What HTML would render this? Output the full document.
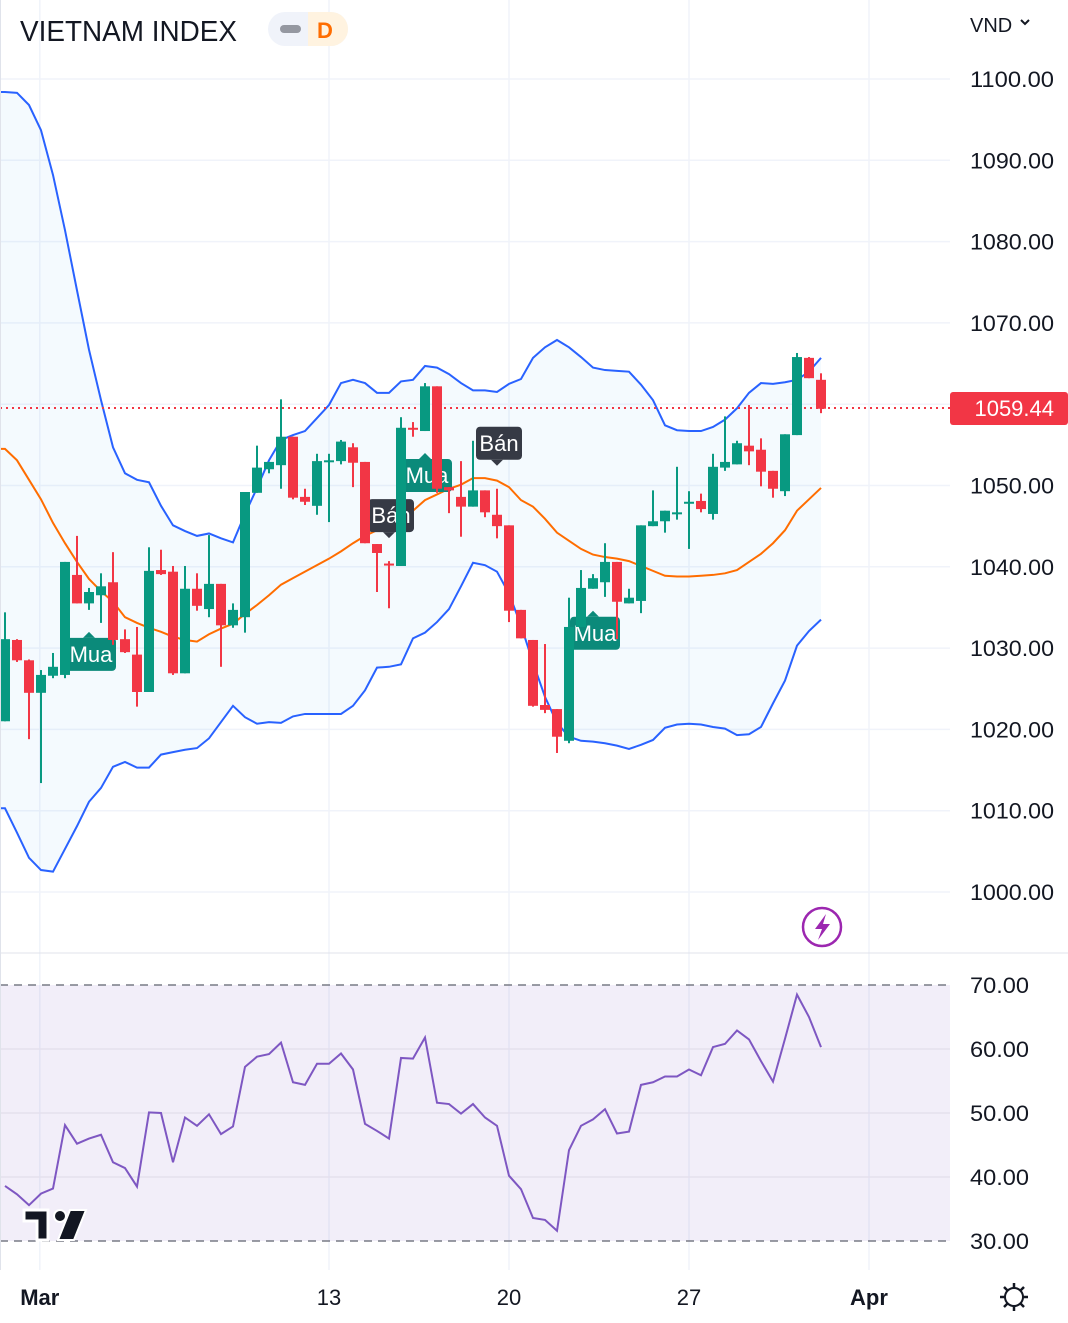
<!DOCTYPE html>
<html><head><meta charset="utf-8">
<style>
html,body{margin:0;padding:0;background:#fff;}
body{width:1068px;height:1318px;overflow:hidden;font-family:"Liberation Sans",sans-serif;}
svg text{font-family:"Liberation Sans",sans-serif;}
</style></head>
<body>
<svg id="chart" width="1068" height="1318" viewBox="0 0 1068 1318" xmlns="http://www.w3.org/2000/svg">
  <rect x="0" y="0" width="1068" height="1318" fill="#ffffff"/>
  <g id="grid"></g>
  <rect x="0" y="985" width="950" height="256" fill="#7e57c2" fill-opacity="0.1"/>
  <g id="rsigrid"></g>
  <g id="bb"></g>
  <line x1="0" y1="408" x2="950" y2="408" stroke="#f23645" stroke-width="2" stroke-dasharray="2,4"/>
  <g id="signals"></g>
  <g id="candles"></g>
  <g id="rsi"></g>
  <line x1="0" y1="953" x2="1068" y2="953" stroke="#e0e3eb" stroke-width="1"/>
  <line x1="0.5" y1="0" x2="0.5" y2="1270" stroke="#e0e3eb" stroke-width="1"/>
  <g id="paxis"></g>
  <g id="raxis"></g>
  <g id="taxis"></g>
  <text x="20" y="41" font-size="29" fill="#131722" textLength="217" lengthAdjust="spacingAndGlyphs">VIETNAM INDEX</text>
  <g>
    <rect x="268" y="12" width="80" height="34" rx="17" fill="#f0f3fa"/>
    <path d="M308 12 H331 A17 17 0 0 1 331 46 H308 Z" fill="#fff3e0"/>
    <rect x="280" y="25" width="21" height="8" rx="4" fill="#9598a1"/>
    <text x="317" y="38" font-size="22" font-weight="bold" fill="#ff6d00">D</text>
  </g>
  <text x="970" y="32" font-size="20" fill="#131722">VND</text>
  <path d="M1021 20 L1025 24 L1029 20" fill="none" stroke="#131722" stroke-width="2"/>
  <g>
    <rect x="950" y="392" width="118" height="33" rx="3" fill="#f23645"/>
    <text x="1054" y="416" font-size="22" fill="#fff" text-anchor="end">1059.44</text>
  </g>
  <g>
    <circle cx="822" cy="927" r="19" fill="#fff" stroke="#9c27b0" stroke-width="2.5"/>
    <path d="M826 914 L815 929 L822 929 L818 940 L830 924 L823 924 Z" fill="#9c27b0"/>
  </g>
  <g>
    <path d="M24 1210 H48 V1240 H37 V1221 H24 Z" fill="#131722" stroke="#fff" stroke-width="3"/>
    <circle cx="60" cy="1216" r="6" fill="#131722" stroke="#fff" stroke-width="2"/>
    <path d="M70 1210 H86 L74 1240 H58 Z" fill="#131722" stroke="#fff" stroke-width="2"/>
  </g>
  <g transform="translate(1014,1297)">
    <circle cx="0" cy="0" r="9" fill="none" stroke="#131722" stroke-width="2"/>
    <g stroke="#131722" stroke-width="2.5">
      <line x1="0" y1="-14" x2="0" y2="-9"/><line x1="0" y1="9" x2="0" y2="14"/>
      <line x1="-14" y1="0" x2="-9" y2="0"/><line x1="9" y1="0" x2="14" y2="0"/>
      <line x1="-10" y1="-10" x2="-6.5" y2="-6.5"/><line x1="6.5" y1="6.5" x2="10" y2="10"/>
      <line x1="-10" y1="10" x2="-6.5" y2="6.5"/><line x1="6.5" y1="-6.5" x2="10" y2="-10"/>
    </g>
  </g>
</svg>
<script>
const opens =  [1021.0,1031.0,1028.5,1024.5,1026.6,1026.7,1039.0,1035.5,1036.5,1038.1,1031.1,1029.2,1024.6,1039.6,1039.4,1026.9,1037.3,1034.8,1037.9,1032.8,1033.8,1049.1,1052.0,1052.5,1056.0,1048.6,1047.5,1053.0,1053.0,1054.7,1052.9,1042.8,1040.4,1040.1,1057.1,1056.7,1062.2,1049.8,1048.6,1047.4,1049.4,1046.4,1045.1,1034.7,1031.0,1023.0,1022.5,1018.6,1032.6,1037.3,1038.1,1040.6,1035.5,1035.8,1045.0,1045.6,1046.6,1047.9,1048.1,1046.5,1052.2,1052.6,1054.9,1054.4,1051.8,1049.3,1056.2,1065.7,1063.0];
const highs =  [1034.4,1031.1,1028.6,1027.3,1029.4,1040.6,1043.8,1037.4,1039.2,1041.8,1032.3,1032.6,1042.4,1042.1,1040.1,1040.1,1039.2,1043.9,1037.9,1035.5,1049.2,1054.9,1052.9,1060.6,1056.0,1049.6,1053.9,1053.9,1055.6,1055.2,1052.9,1042.8,1040.7,1058.4,1057.8,1062.6,1062.2,1049.8,1053.0,1055.5,1049.4,1049.6,1045.1,1034.7,1031.0,1030.5,1022.5,1036.2,1039.6,1039.1,1042.9,1040.6,1037.3,1045.1,1049.4,1046.9,1052.3,1049.3,1049.0,1053.9,1058.5,1055.5,1059.9,1055.8,1051.8,1056.3,1066.3,1065.8,1063.8];
const lows =   [1021.0,1028.3,1018.8,1013.4,1026.3,1026.3,1035.5,1034.7,1033.1,1030.4,1029.4,1022.8,1024.6,1039.0,1026.7,1026.9,1034.6,1033.8,1027.7,1032.5,1031.9,1049.1,1051.5,1049.6,1048.3,1047.6,1046.4,1045.5,1052.6,1049.8,1042.9,1036.9,1034.9,1040.1,1056.0,1056.7,1049.1,1046.6,1043.7,1047.4,1046.1,1043.5,1033.2,1031.2,1022.8,1022.0,1017.1,1018.3,1032.6,1037.3,1036.3,1031.1,1035.5,1034.3,1045.0,1044.2,1045.8,1042.2,1046.7,1045.8,1051.8,1052.6,1052.5,1049.9,1048.5,1048.7,1056.2,1063.2,1058.9];
const closes = [1031.1,1028.5,1024.5,1026.7,1027.7,1040.6,1035.5,1036.9,1037.6,1031.0,1029.5,1024.6,1039.5,1039.1,1026.9,1037.3,1035.2,1037.9,1032.8,1034.7,1049.2,1052.2,1052.9,1056.0,1048.5,1048.0,1053.0,1053.1,1055.4,1052.8,1042.9,1041.7,1040.3,1057.1,1057.0,1062.2,1049.6,1049.4,1047.4,1049.4,1046.7,1045.0,1034.6,1031.2,1022.9,1022.4,1019.1,1032.6,1037.4,1038.6,1040.6,1035.7,1036.2,1045.1,1045.6,1046.9,1046.7,1048.0,1047.1,1052.3,1052.9,1055.2,1054.2,1051.7,1049.6,1056.3,1065.8,1063.2,1059.44];
const bbUpper = [1098.4,1098.3,1096.8,1093.7,1088.2,1081.4,1074.0,1066.7,1060.5,1054.7,1051.5,1050.7,1050.4,1047.5,1045.1,1044.4,1043.8,1044.1,1043.5,1043.0,1046.5,1049.7,1053.1,1055.6,1056.2,1056.7,1058.3,1059.9,1062.6,1063.0,1062.6,1061.4,1061.4,1062.8,1063.0,1064.7,1064.5,1063.7,1062.6,1061.7,1061.7,1061.5,1062.5,1063.1,1065.7,1067.0,1067.9,1067.0,1065.8,1064.5,1064.2,1064.1,1064.0,1062.4,1060.5,1057.4,1056.8,1056.7,1056.7,1057.2,1058.1,1059.5,1061.4,1062.6,1062.5,1062.7,1063.0,1064.0,1065.7];
const bbBasis = [1054.5,1053.1,1050.7,1048.3,1045.4,1042.9,1040.6,1038.5,1037.0,1035.7,1033.8,1033.1,1032.5,1032.0,1031.4,1031.0,1030.8,1031.7,1032.4,1033.0,1034.2,1035.3,1036.5,1037.8,1038.6,1039.4,1040.2,1041.0,1041.9,1042.9,1043.8,1044.5,1044.7,1045.6,1046.9,1048.2,1048.9,1049.6,1050.1,1050.9,1050.9,1050.6,1049.8,1048.2,1047.4,1045.9,1044.2,1043.2,1042.2,1041.5,1041.2,1041.0,1040.7,1040.1,1039.5,1038.9,1038.8,1038.8,1038.9,1039.0,1039.2,1039.6,1040.6,1041.6,1042.9,1044.5,1046.9,1048.3,1049.7];
const bbLower = [1010.3,1007.3,1004.2,1002.7,1002.5,1005.3,1008.1,1011.1,1012.8,1015.4,1016.0,1015.3,1015.3,1016.9,1017.2,1017.5,1017.7,1018.9,1020.9,1022.9,1021.5,1020.7,1020.9,1020.8,1021.6,1021.9,1021.9,1021.9,1021.9,1022.9,1024.8,1027.6,1027.7,1028.0,1031.2,1031.9,1033.2,1034.8,1037.6,1040.5,1040.2,1039.4,1036.7,1032.8,1028.2,1024.0,1020.8,1019.1,1018.6,1018.5,1018.3,1018.0,1017.6,1018.1,1018.7,1020.2,1020.6,1020.7,1020.6,1020.3,1020.1,1019.3,1019.4,1020.3,1023.2,1026.0,1030.3,1032.1,1033.5];
const rsiValues = [38.6,37.3,35.6,37.4,38.2,48.1,45.2,46.0,46.6,42.3,41.4,38.5,50.1,50.0,42.3,49.3,48.0,49.8,46.7,47.9,57.2,58.8,59.2,61.0,54.8,54.4,57.7,57.7,59.3,56.8,48.3,47.2,46.0,58.6,58.5,61.8,51.6,51.4,49.9,51.4,49.3,48.0,40.2,38.1,33.6,33.3,31.6,44.2,48.0,49.0,50.6,46.8,47.1,54.4,54.8,55.7,55.7,56.8,55.9,60.3,60.8,62.9,61.5,58.1,54.9,61.6,68.5,65.0,60.3];
const priceTicks = [1100,1090,1080,1070,1060,1050,1040,1030,1020,1010,1000];
const rsiTicks = [70,60,50,40,30];
const timeLabels = ["Mar","13","20","27","Apr"];
const timeBold = [true,false,false,false,true];
const timeIdx = [2.9,27,42,57,72];
const signalIdx = [7,32,35,41,49];
const signalType = ["Mua","Bán","Mua","Bán","Mua"];

const NS="http://www.w3.org/2000/svg";
function xS(i){return 5+12*i;}
function yP(v){return 79+(1100-v)*8.13;}
function yR(v){return 985+(70-v)*6.4;}
function mk(tag,attrs,parent){const e=document.createElementNS(NS,tag);for(const k in attrs)e.setAttribute(k,attrs[k]);parent.appendChild(e);return e;}
const G=id=>document.getElementById(id);

priceTicks.forEach(v=>{
  const l=mk('line',{x1:0,x2:950,y1:yP(v),y2:yP(v),stroke:'#f0f3fa','stroke-width':1.5},G('grid'));
  
  
  const t=mk('text',{x:970,y:yP(v)+8,'font-size':22,fill:'#131722',textLength:84,lengthAdjust:'spacingAndGlyphs'},G('paxis'));
  t.textContent=v.toFixed(2);
  
  
});
timeIdx.forEach((ix,k)=>{
  const x=xS(ix);
  const l=mk('line',{x1:x,x2:x,y1:0,y2:1270,stroke:'#f0f3fa','stroke-width':1.5},G('grid'));
  
  
  const t=mk('text',{x:x,y:1305,'font-size':22,fill:'#131722','text-anchor':'middle','font-weight':timeBold[k]?'bold':'normal'},G('taxis'));
  t.textContent=timeLabels[k];
  
  
});
rsiTicks.forEach(v=>{
  const edge=(v===70||v===30);
  const l=mk('line',{x1:0,x2:950,y1:yR(v),y2:yR(v),stroke:edge?'#787b86':'#e4e0ee','stroke-width':1.5},G('rsigrid'));
  if(edge)l.setAttribute('stroke-dasharray','8,6');
  
  
  const t=mk('text',{x:970,y:yR(v)+8,'font-size':22,fill:'#131722',textLength:59,lengthAdjust:'spacingAndGlyphs'},G('raxis'));
  t.textContent=v.toFixed(2);
  
  
});

function pts(arr,fy){const p=arr.map((v,i)=>xS(i)+','+fy(v));p.unshift('0,'+fy(arr[0]));return p;}
const up=pts(bbUpper,yP);
const lo=pts(bbLower,yP);
const fill=mk('polygon',{points:up.concat(lo.slice().reverse()).join(' '),fill:'#2196f3','fill-opacity':0.05},G('bb'));


const bu=mk('polyline',{points:up.join(' '),fill:'none',stroke:'#2962ff','stroke-width':2},G('bb'));


const bl=mk('polyline',{points:lo.join(' '),fill:'none',stroke:'#2962ff','stroke-width':2},G('bb'));


const bm=mk('polyline',{points:pts(bbBasis,yP).join(' '),fill:'none',stroke:'#ff6d00','stroke-width':2},G('bb'));



signalIdx.forEach((ix,k)=>{
  const buy=signalType[k]==='Mua';
  const x=xS(ix);
  const g=mk('g',{},G('signals'));
  
  
  const w=buy?50:46, h=33, col=buy?'#0b8a7a':'#363a45';
  let bx=x-w/2+2, by, tri;
  if(buy){const tip=yP(lows[ix])+22; by=tip+6; tri=`${x-6},${by} ${x},${tip} ${x+6},${by}`;}
  else{const tip=yP(highs[ix])-23; by=tip-6-h; tri=`${x-6},${by+h} ${x},${tip} ${x+6},${by+h}`;}
  mk('rect',{x:bx,y:by,width:w,height:h,rx:4,fill:col},g);
  mk('polygon',{points:tri,fill:col},g);
  const t=mk('text',{x:bx+w/2,y:by+24,'font-size':22,fill:'#fff','text-anchor':'middle'},g);
  t.textContent=signalType[k];
});

opens.forEach((o,i)=>{
  const c=closes[i],h=highs[i],l=lows[i];
  const col=c>=o?'#089981':'#f23645';
  const x=xS(i);
  const g=mk('g',{},G('candles'));
  
  
  mk('rect',{x:x-1,y:yP(h),width:2,height:Math.max(1,yP(l)-yP(h)),fill:col},g);
  const t=yP(Math.max(o,c)),b=yP(Math.min(o,c));
  mk('rect',{x:x-5,y:t,width:10,height:Math.max(2,b-t),fill:col},g);
});

const rl=mk('polyline',{points:rsiValues.map((v,i)=>xS(i)+','+yR(v)).join(' '),fill:'none',stroke:'#7e57c2','stroke-width':2},G('rsi'));


</script>
</body></html>
